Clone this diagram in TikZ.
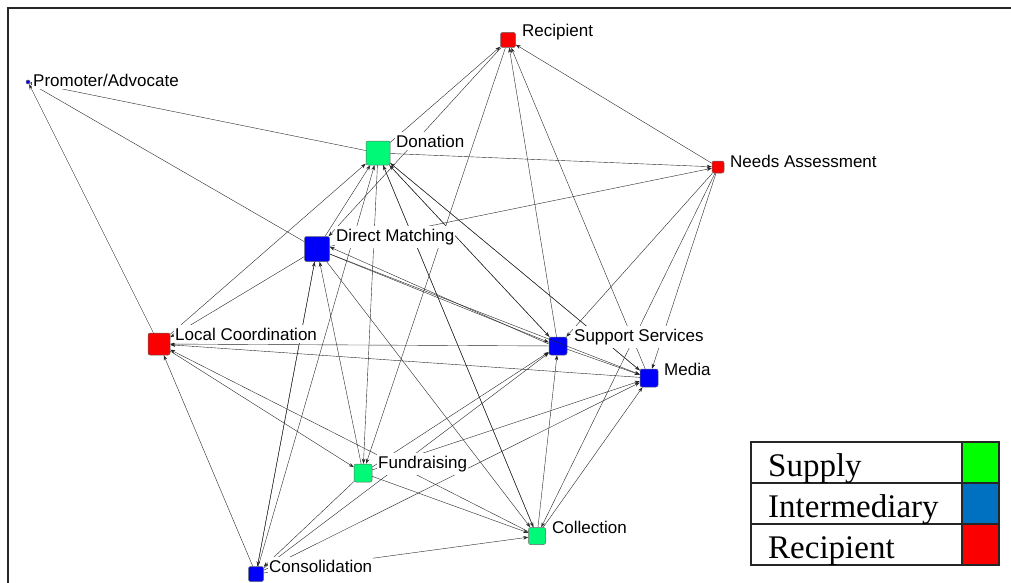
\documentclass[tikz,border=0pt]{standalone}
\usepackage{fontspec}
\setmainfont{Liberation Serif}
\newfontfamily\labelfont{Liberation Sans}
\usetikzlibrary{arrows.meta}
\definecolor{supplygreen}{RGB}{0,250,120}
\definecolor{interblue}{RGB}{0,0,250}
\definecolor{recipred}{RGB}{250,0,0}
\definecolor{legendgreen}{RGB}{0,255,0}
\definecolor{legendblue}{RGB}{0,112,192}
\tikzset{
  actor/.style={draw=black!60, line width=0.5pt, rounded corners=2pt, inner sep=0pt, minimum size=#1},
  supply/.style={actor=#1, fill=supplygreen},
  inter/.style={actor=#1, fill=interblue},
  recip/.style={actor=#1, fill=recipred},
  tag/.style={font=\labelfont\fontsize{17}{17}\selectfont, anchor=west, fill=white, inner xsep=1pt, inner ysep=3pt},
  link/.style={draw=black!85, line width=0.4pt, -{Stealth[length=5pt,width=3.6pt]}},
  legendtext/.style={font=\fontsize{33}{33}\selectfont, anchor=base west, inner sep=0pt}
}
\begin{document}
\begin{tikzpicture}[x=1pt,y=-1pt]
\useasboundingbox (0,0) rectangle (1011,583);
% frame
\draw[line width=2pt, black!85] (8,590) -- (8,8) -- (1020,8);

% actors
\node[recip=15pt]  (rec)  at (508,40)  {};
\node[inter=4pt]   (pro)  at (28,82)   {};
\node[supply=24pt] (don)  at (378,153) {};
\node[recip=12pt]  (need) at (718,167) {};
\node[inter=25pt]  (dm)   at (317,249) {};
\node[recip=22pt]  (lc)   at (159,344) {};
\node[inter=18pt]  (ss)   at (558,346) {};
\node[inter=18pt]  (med)  at (649,378) {};
\node[supply=18pt] (fund) at (363,473) {};
\node[supply=17pt] (coll) at (537,536) {};
\node[inter=15pt]  (cons) at (256,574) {};

% ties between actors
\foreach \s/\t in {lc/pro, dm/pro, don/pro,
  don/rec, rec/dm, need/rec, ss/rec, med/rec, rec/fund,
  don/need, dm/need, need/ss, need/med, need/coll,
  lc/don, dm/don, cons/don, coll/don, ss/don, med/don, don/fund,
  don/ss, don/med, don/coll,
  dm/ss, dm/med, dm/coll, dm/cons, fund/dm, cons/dm, dm/lc,
  ss/lc, med/lc, lc/fund, coll/lc, cons/lc,
  fund/ss, fund/med, fund/coll, fund/cons,
  cons/ss, cons/med, cons/coll,
  coll/ss, coll/med, ss/med}
  \draw[link] (\s) -- (\t);
\draw[link] ([yshift=2pt]ss.west) -- ([yshift=2pt]dm.east);

% actor names
\node[tag] (lrec)  at (521,32)  {Recipient};
\node[tag] (lpro)  at (32,80)   {Promoter/Advocate};
\node[tag] (ldon)  at (395,141) {Donation};
\node[tag] (lneed) at (729,161) {Needs Assessment};
\node[tag] (ldm)   at (335,237) {Direct Matching};
\node[tag] (llc)   at (174,334) {Local Coordination};
\node[tag] (lss)   at (573,337) {Support Services};
\node[tag] (lmed)  at (663,369) {Media};
\node[tag] (lfund) at (377,464) {Fundraising};
\node[tag] (lcoll) at (551,527) {Collection};
\node[tag] (lcons) at (268,566) {Consolidation};

% legend
\fill[legendgreen] (963,443) rectangle (998,482);
\fill[legendblue]  (963,484) rectangle (998,523);
\fill[recipred]    (963,525) rectangle (998,564);
\draw[line width=1.2pt, black!85] (751,442) rectangle (999,565);
\draw[line width=1.2pt, black!85] (751,483) -- (999,483) (751,524) -- (999,524) (962,442) -- (962,565);
\node[legendtext] (lsup) at (768,476) {Supply};
\node[legendtext] (lint) at (768,517) {Intermediary};
\node[legendtext] (lrcp) at (768,558) {Recipient};
\end{tikzpicture}
\end{document}
